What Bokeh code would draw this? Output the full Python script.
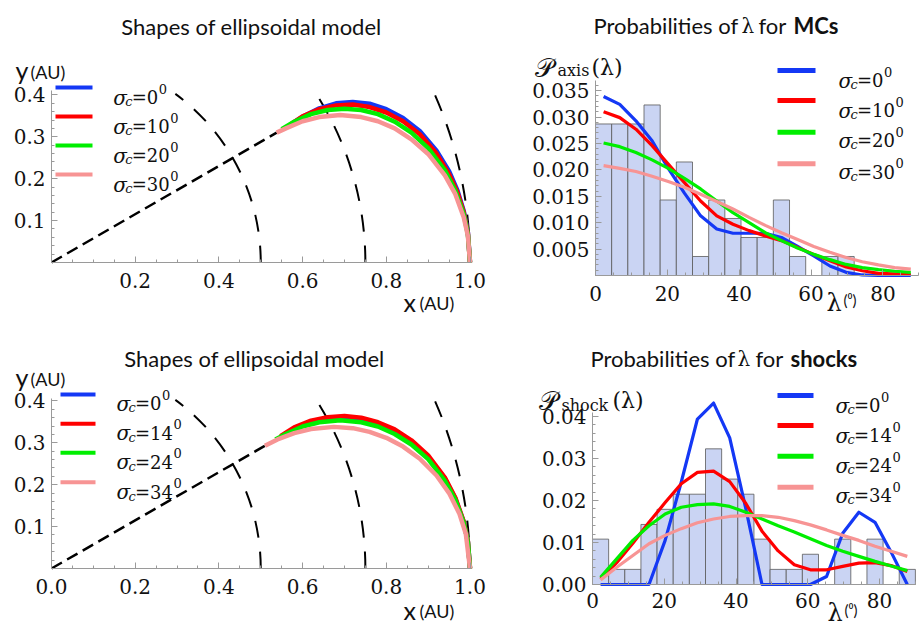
import math
from bokeh.plotting import figure
from bokeh.models import Range1d, FixedTicker, Label, PrintfTickFormatter
from bokeh.layouts import gridplot
from bokeh.embed import file_html
from bokeh.resources import INLINE

# ---------------- data ----------------
# left panels: model shapes (x, y in AU)
tl_blue_x = [0.58, 0.60, 0.64, 0.68, 0.72, 0.76, 0.80, 0.84, 0.88, 0.92, 0.95, 0.97, 0.985, 0.995, 1.0]
tl_blue_y = [0.335, 0.348, 0.368, 0.380, 0.383, 0.379, 0.366, 0.345, 0.314, 0.267, 0.218, 0.172, 0.123, 0.072, 0.0]
tl_red_x = [0.57, 0.60, 0.64, 0.68, 0.72, 0.76, 0.80, 0.84, 0.88, 0.92, 0.95, 0.97, 0.985, 0.995, 1.0]
tl_red_y = [0.329, 0.349, 0.366, 0.375, 0.377, 0.371, 0.358, 0.337, 0.306, 0.260, 0.211, 0.167, 0.120, 0.070, 0.0]
tl_green_x = [0.55, 0.58, 0.62, 0.66, 0.70, 0.74, 0.78, 0.82, 0.86, 0.90, 0.94, 0.965, 0.985, 0.995, 1.0]
tl_green_y = [0.318, 0.336, 0.354, 0.364, 0.367, 0.364, 0.354, 0.336, 0.310, 0.273, 0.220, 0.172, 0.115, 0.067, 0.0]
tl_pink_x = [0.538, 0.56, 0.60, 0.64, 0.69, 0.74, 0.78, 0.82, 0.86, 0.90, 0.94, 0.965, 0.985, 0.995, 1.0]
tl_pink_y = [0.310, 0.320, 0.337, 0.347, 0.352, 0.347, 0.337, 0.320, 0.294, 0.259, 0.208, 0.163, 0.108, 0.063, 0.0]

bl_blue_x = [0.548, 0.58, 0.62, 0.66, 0.70, 0.74, 0.78, 0.82, 0.86, 0.90, 0.94, 0.965, 0.985, 0.995, 1.0]
bl_blue_y = [0.313, 0.333, 0.349, 0.357, 0.360, 0.356, 0.345, 0.328, 0.303, 0.267, 0.215, 0.167, 0.111, 0.064, 0.0]
bl_red_x = [0.547, 0.58, 0.62, 0.66, 0.70, 0.74, 0.78, 0.82, 0.86, 0.90, 0.94, 0.965, 0.985, 0.995, 1.0]
bl_red_y = [0.316, 0.337, 0.353, 0.361, 0.364, 0.360, 0.349, 0.332, 0.306, 0.270, 0.217, 0.169, 0.112, 0.065, 0.0]
bl_green_x = [0.535, 0.56, 0.60, 0.64, 0.69, 0.74, 0.78, 0.82, 0.86, 0.90, 0.94, 0.965, 0.985, 0.995, 1.0]
bl_green_y = [0.308, 0.321, 0.339, 0.349, 0.354, 0.349, 0.339, 0.321, 0.296, 0.261, 0.209, 0.164, 0.109, 0.063, 0.0]
bl_pink_x = [0.51, 0.54, 0.58, 0.62, 0.675, 0.72, 0.76, 0.80, 0.84, 0.88, 0.92, 0.95, 0.975, 0.99, 1.0]
bl_pink_y = [0.293, 0.308, 0.323, 0.333, 0.338, 0.335, 0.326, 0.312, 0.291, 0.262, 0.222, 0.180, 0.130, 0.083, 0.0]

circle_radii = [0.5, 0.75, 1.0]

# right panels: lambda bin centres (deg) and probabilities
lam = [2.25, 6.75, 11.25, 15.75, 20.25, 24.75, 29.25, 33.75, 38.25, 42.75,
       47.25, 51.75, 56.25, 60.75, 65.25, 69.75, 74.25, 78.75, 83.25, 87.75]
bin_width = 4.5

mc_hist = [0.0287, 0.0287, 0.0287, 0.0323, 0.0143, 0.0215, 0.0036, 0.0143, 0.0108, 0.0072,
           0.0072, 0.0143, 0.0036, 0.0, 0.0036, 0.0036, 0.0, 0.0, 0.0, 0.0]
mc_s0 = [0.0339, 0.0324, 0.0293, 0.0255, 0.0203, 0.0156, 0.0113, 0.0088, 0.0080, 0.0080,
         0.0080, 0.0072, 0.0055, 0.0037, 0.0018, 0.0006, 0.0001, 0.0, 0.0, 0.0]
mc_s10 = [0.0310, 0.0299, 0.0277, 0.0246, 0.0211, 0.0176, 0.0141, 0.0113, 0.0097, 0.0085,
          0.0075, 0.0066, 0.0053, 0.0040, 0.0028, 0.0016, 0.0009, 0.0004, 0.0003, 0.0002]
mc_s20 = [0.0251, 0.0244, 0.0233, 0.0219, 0.0203, 0.0184, 0.0164, 0.0141, 0.0119, 0.0100,
          0.0081, 0.0066, 0.0052, 0.0040, 0.0030, 0.0021, 0.0015, 0.0011, 0.0008, 0.0006]
mc_s30 = [0.0208, 0.0203, 0.0197, 0.0188, 0.0178, 0.0167, 0.0154, 0.0140, 0.0126, 0.0110,
          0.0095, 0.0081, 0.0068, 0.0055, 0.0044, 0.0034, 0.0026, 0.0020, 0.0015, 0.0012]

sh_hist = [0.0108, 0.0036, 0.0036, 0.0143, 0.0179, 0.0215, 0.0215, 0.0323, 0.0251, 0.0215,
           0.0108, 0.0036, 0.0036, 0.0072, 0.0, 0.0108, 0.0, 0.0108, 0.0, 0.0036]
sh_s0 = [0.0, 0.0, 0.0, 0.0, 0.0105, 0.0244, 0.0394, 0.0432, 0.0349, 0.0180,
         0.0, 0.0, 0.0, 0.0, 0.0019, 0.0122, 0.0172, 0.0148, 0.0077, 0.0]
sh_s14 = [0.0013, 0.0052, 0.0098, 0.0148, 0.0195, 0.0240, 0.0267, 0.0270, 0.0245, 0.0193,
          0.0127, 0.0080, 0.0047, 0.0035, 0.0035, 0.0043, 0.0051, 0.0052, 0.0045, 0.0031]
sh_s24 = [0.0017, 0.0061, 0.0105, 0.0140, 0.0168, 0.0184, 0.0190, 0.0192, 0.0186, 0.0172,
          0.0156, 0.0140, 0.0125, 0.0109, 0.0093, 0.0079, 0.0067, 0.0055, 0.0044, 0.0033]
sh_s34 = [0.0011, 0.0041, 0.0069, 0.0097, 0.0117, 0.0133, 0.0147, 0.0156, 0.0162, 0.0164,
          0.0164, 0.0160, 0.0152, 0.0142, 0.0130, 0.0117, 0.0105, 0.0091, 0.0079, 0.0067]

sigma_top = ["0", "10", "20", "30"]
sigma_bottom = ["0", "14", "24", "34"]

left_x_ticks_top = [0.2, 0.4, 0.6, 0.8, 1.0]
left_x_ticks_bottom = [0.0, 0.2, 0.4, 0.6, 0.8, 1.0]
left_y_ticks = [0.1, 0.2, 0.3, 0.4]
right_x_ticks = [0, 20, 40, 60, 80]
mc_y_ticks = [0.005, 0.010, 0.015, 0.020, 0.025, 0.030, 0.035]
sh_y_ticks = [0.00, 0.01, 0.02, 0.03, 0.04]

# ---------------- style ----------------
COLORS = ["#1438f5", "#ff0000", "#00ee00", "#f79494"]
AXIS_COL = "#9a9a9a"
SERIF = "DejaVu Serif"
SANS = "Lato"
MATH = "DejaVu Serif"


class Panel:
    """Maps reference pixel positions to data coordinates of one figure whose
    frame fills its whole canvas."""

    def __init__(self, ox, oy, w, h, x0, sx, y0, sy):
        self.x0, self.sx, self.y0, self.sy = x0, sx, y0, sy
        xr = ((ox - x0) / sx, (ox + w - x0) / sx)
        yr = ((y0 - (oy + h)) / sy, (y0 - oy) / sy)
        p = figure(width=w, height=h, output_backend="svg", toolbar_location=None,
                   x_range=Range1d(*xr), y_range=Range1d(*yr),
                   min_border_left=0, min_border_right=0, min_border_top=0, min_border_bottom=0)
        p.outline_line_color = None
        p.xgrid.visible = False
        p.ygrid.visible = False
        p.background_fill_color = "white"
        p.border_fill_color = "white"
        self.p = p

    def c(self, rx, ry):
        return (rx - self.x0) / self.sx, (self.y0 - ry) / self.sy

    def lab(self, rx, ry, text, size, font=SERIF, style="normal", align="left",
            baseline="alphabetic", color="#111111"):
        x, y = self.c(rx, ry)
        self.p.add_layout(Label(x=x, y=y, text=text, text_font=font,
                                text_font_size=f"{size}px", text_font_style=style,
                                text_align=align, text_baseline=baseline, text_color=color))


def style_axes(p, xt, xminor, xfmt, yt, yminor, yfmt, xb, yb, xstand, ystand, size):
    for ax, t, mn, fmt, b, st in ((p.xaxis[0], xt, xminor, xfmt, xb, xstand),
                                  (p.yaxis[0], yt, yminor, yfmt, yb, ystand)):
        ax.ticker = FixedTicker(ticks=t, minor_ticks=mn)
        ax.formatter = PrintfTickFormatter(format=fmt)
        ax.bounds = b
        ax.fixed_location = 0
        ax.axis_line_color = AXIS_COL
        ax.major_tick_line_color = AXIS_COL
        ax.minor_tick_line_color = AXIS_COL
        ax.major_tick_in = 6
        ax.major_tick_out = 0
        ax.minor_tick_in = 3
        ax.minor_tick_out = 0
        ax.major_label_text_font = SERIF
        ax.major_label_text_font_size = f"{size}px"
        ax.major_label_text_color = "#111111"
        ax.major_label_standoff = st


def legend(P, lx0, lx1, line_ys, sx, base_ys, values, lw):
    for col, ly, by, v in zip(COLORS, line_ys, base_ys, values):
        x0, y0 = P.c(lx0, ly)
        x1, _ = P.c(lx1, ly)
        P.p.line([x0, x1], [y0, y0], line_color=col, line_width=lw)
        P.lab(sx, by, "σ", 20, style="italic")
        P.lab(sx + 12, by + 4, "c", 13, style="italic")
        P.lab(sx + 18.5, by, "=" + v, 18)
        P.lab(sx + 18.5 + 15.1 + 11.45 * len(v) + 0.5, by - 9, "0", 13)


def shapes_panel(P, curves, ytop, xt):
    p = P.p
    minor_x = [i * 0.05 for i in range(21)]
    minor_y = [i * 0.02 for i in range(21)]
    style_axes(p, xt, minor_x, "%.1f", left_y_ticks, minor_y, "%.1f",
               (0, 1.0), (0, ytop), 10, 6, 20)
    # reference circles (cut at the top of the plot range) and direction line
    ends = [math.asin(min(1.0, 0.403 / r)) for r in circle_radii]
    p.arc(x=[0] * 3, y=[0] * 3, radius=circle_radii, start_angle=[0] * 3, end_angle=ends,
          line_color="black", line_width=2, line_dash="17 14")
    px, py = curves[3]
    p.line([0, px[0]], [0, py[0]], line_color="black", line_width=2.5, line_dash="12 6")
    for (cx, cy), col in zip(curves, COLORS):
        p.line(cx, cy, line_color=col, line_width=4.5, line_cap="butt", line_join="round")


def prob_panel(P, hist, curves, yt, ymn, yfmt, ybound, xstand):
    p = P.p
    minor_x = [i * 5 for i in range(19)]
    style_axes(p, right_x_ticks, minor_x, "%d", yt, ymn, yfmt, (0, 90), ybound, xstand, 6, 20)
    left = [c - bin_width / 2 for c, h in zip(lam, hist) if h > 0]
    right = [c + bin_width / 2 for c, h in zip(lam, hist) if h > 0]
    top = [h for h in hist if h > 0]
    p.quad(left=left, right=right, bottom=[0] * len(top), top=top,
           fill_color="#cad4f3", line_color="#5a5a5a", line_width=1, line_alpha=0.8)
    for ys, col in zip(curves, COLORS):
        p.line(lam, ys, line_color=col, line_width=3.2, line_join="round")


# ---------------- top-left ----------------
P1 = Panel(0, 0, 508, 315, 51, 418.5, 262, 419)
shapes_panel(P1, [(tl_blue_x, tl_blue_y), (tl_red_x, tl_red_y),
                  (tl_green_x, tl_green_y), (tl_pink_x, tl_pink_y)], 0.41, left_x_ticks_top)
legend(P1, 55, 92, [87, 116, 145, 174], 112.7, [97, 126, 155, 184], sigma_top, 4)
P1.lab(251, 26, "Shapes of ellipsoidal model", 22, font=SANS, align="center")
P1.lab(15, 69, "y", 25, font=SANS)
P1.lab(30, 71, "(AU)", 18, font=SANS)
P1.lab(403, 301, "x", 25, font=SANS)
P1.lab(419, 302, "(AU)", 18, font=SANS)

# ---------------- top-right ----------------
P2 = Panel(508, 0, 412, 315, 595, 3.593, 275, 5280)
prob_panel(P2, mc_hist, [mc_s0, mc_s10, mc_s20, mc_s30], mc_y_ticks,
           [i * 0.001 for i in range(37)], "%.3f", (0, 0.0369), 10)
legend(P2, 777, 815, [70, 100, 131.7, 163.3], 838, [80, 110, 140, 171.7], sigma_top, 5)
P2.lab(593, 25, "Probabilities of", 22, font=SANS)
P2.lab(741, 25, "λ", 20)
P2.lab(758, 25, "for", 22, font=SANS)
P2.lab(793, 25, "MCs", 22, font=SANS, style="bold")
P2.lab(534, 67, "𝒫", 26, font=MATH)
P2.lab(557, 70, "axis", 16)
P2.lab(591, 67, "(λ)", 22)
P2.lab(826, 302, "λ", 24)
P2.lab(843, 299, "(⁰)", 15, font=SANS)

# ---------------- bottom-left ----------------
P3 = Panel(0, 315, 508, 312, 51, 418.5, 568, 419)
shapes_panel(P3, [(bl_blue_x, bl_blue_y), (bl_red_x, bl_red_y),
                  (bl_green_x, bl_green_y), (bl_pink_x, bl_pink_y)], 0.405, left_x_ticks_bottom)
legend(P3, 60, 95, [394, 423.3, 452.3, 481.7], 116, [403.3, 432.7, 461.7, 491.7], sigma_bottom, 4)
P3.lab(254, 358, "Shapes of ellipsoidal model", 22, font=SANS, align="center")
P3.lab(15, 376, "y", 25, font=SANS)
P3.lab(30, 378, "(AU)", 18, font=SANS)
P3.lab(403, 609, "x", 25, font=SANS)
P3.lab(419, 610, "(AU)", 18, font=SANS)

# ---------------- bottom-right ----------------
P4 = Panel(508, 315, 412, 312, 592, 3.5875, 584, 4200)
prob_panel(P4, sh_hist, [sh_s0, sh_s14, sh_s24, sh_s34], sh_y_ticks,
           [i * 0.002 for i in range(21)], "%.2f", (0, 0.041), 8)
legend(P4, 777, 813, [395, 425, 455.7, 486.7], 835, [405, 435, 465, 495], sigma_bottom, 5)
P4.lab(590, 358, "Probabilities of", 22, font=SANS)
P4.lab(737, 358, "λ", 20)
P4.lab(755, 358, "for", 22, font=SANS)
P4.lab(790, 358, "shocks", 22, font=SANS, style="bold")
P4.lab(538, 400, "𝒫", 26, font=MATH)
P4.lab(561, 405, "shock", 16)
P4.lab(612, 400, "(λ)", 22)
P4.lab(827, 612, "λ", 24)
P4.lab(844, 609, "(⁰)", 15, font=SANS)

grid = gridplot([[P1.p, P2.p], [P3.p, P4.p]], toolbar_location=None)
open("out.html", "w").write(file_html(grid, INLINE))
